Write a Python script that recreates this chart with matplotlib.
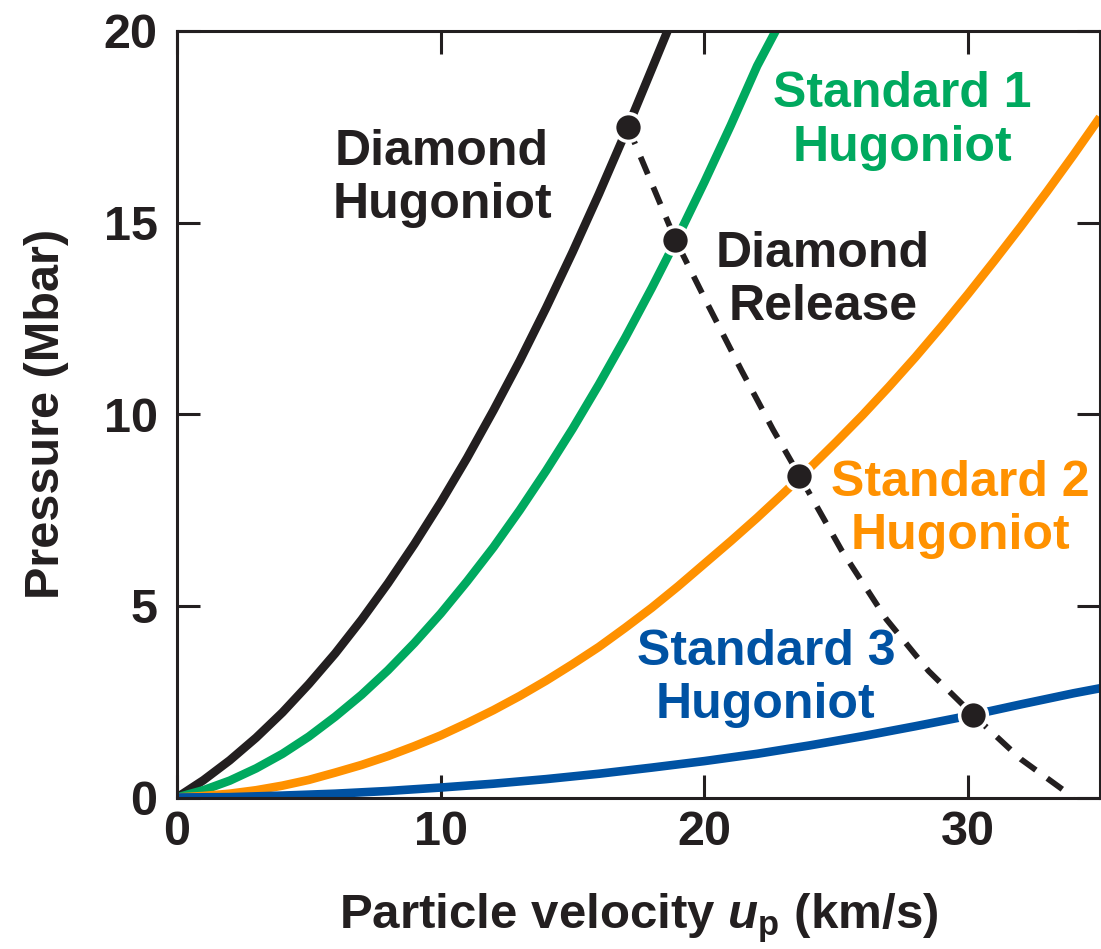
import numpy as np
import matplotlib
matplotlib.use("Agg")
import matplotlib.pyplot as plt

plt.rcParams['font.family'] = ['Liberation Sans', 'DejaVu Sans']
plt.rcParams['font.weight'] = 'bold'
plt.rcParams['mathtext.fontset'] = 'custom'
plt.rcParams['mathtext.rm'] = 'Liberation Sans:bold'
plt.rcParams['mathtext.it'] = 'Liberation Sans:bold:italic'
plt.rcParams['mathtext.bf'] = 'Liberation Sans:bold'

# Hugoniot curves: up (km/s) vs P (Mbar)
diamond_up = [0, 1, 2, 3, 4, 5, 6, 7, 8, 9, 10, 11, 12, 13, 14, 15, 16, 17, 18, 18.6]
diamond_p = [0, 0.45, 0.97, 1.56, 2.22, 2.96, 3.76, 4.64, 5.59, 6.61, 7.7,
             8.86, 10.1, 11.4, 12.78, 14.23, 15.75, 17.34, 19.0, 20.0]

std1_up = [0, 1, 2, 3, 4, 5, 6, 7, 8, 9, 10, 11, 12, 13, 14, 15, 16, 17, 18, 19, 20, 21, 22, 22.7]
std1_p = [0, 0.19, 0.44, 0.76, 1.14, 1.59, 2.11, 2.68, 3.32, 4.03, 4.8, 5.64,
          6.53, 7.5, 8.53, 9.62, 10.78, 12.0, 13.29, 14.64, 16.06, 17.54, 19.09, 20.0]

std2_up = [0, 1, 2, 3, 4, 5, 6, 7, 8, 9, 10, 11, 12, 13, 14, 15, 16, 17, 18,
           19, 20, 21, 22, 23, 24, 25, 26, 27, 28, 29, 30, 31, 32, 33, 34, 35]
std2_p = [0, 0.04, 0.1, 0.19, 0.31, 0.46, 0.65, 0.85, 1.08, 1.34, 1.62, 1.94,
          2.28, 2.65, 3.05, 3.48, 3.93, 4.43, 4.95, 5.51, 6.1, 6.69, 7.3, 7.94,
          8.6, 9.28, 9.98, 10.72, 11.49, 12.3, 13.14, 14.01, 14.9, 15.82, 16.77, 17.75]

std3_up = [0, 2, 4, 6, 8, 10, 12, 14, 16, 18, 20, 22, 24, 26, 28, 30, 32, 34, 35]
std3_p = [0, 0.01, 0.05, 0.1, 0.17, 0.26, 0.36, 0.48, 0.62, 0.78, 0.95, 1.14,
          1.36, 1.6, 1.86, 2.13, 2.43, 2.72, 2.85]

# diamond release isentrope
release_up = [17.1, 18.9, 20.1, 21.4, 22.6, 23.6, 25.2, 26.9, 28.5, 30.2, 32.0, 34.0]
release_p = [17.5, 14.55, 12.9, 11.15, 9.6, 8.4, 6.45, 4.65, 3.3, 2.15, 1.0, 0.0]

# impedance-match points
match_up = [17.1, 18.9, 23.6, 30.2]
match_p = [17.5, 14.55, 8.4, 2.15]

c_black = '#231f20'
c_green = '#00a95f'
c_orange = '#ff9100'
c_blue = '#0052a3'

fig = plt.figure(figsize=(11.01, 9.49), dpi=100)
ax = fig.add_axes([177/1101, 1 - 797.5/949, 923/1101, 766.5/949])

ax.plot(diamond_up, diamond_p, color=c_black, lw=6.2, solid_capstyle='butt')
ax.plot(std1_up, std1_p, color=c_green, lw=6.2, solid_capstyle='butt')
ax.plot(std2_up, std2_p, color=c_orange, lw=6.2, solid_capstyle='butt')
ax.plot(std3_up, std3_p, color=c_blue, lw=6.2, solid_capstyle='butt')
ax.plot(release_up, release_p, color=c_black, lw=4.2, dashes=(3.2, 2.4),
        clip_on=False)
ax.plot(match_up, match_p, 'o', color=c_black, ms=20, mec='white', mew=2.5, zorder=5)

ax.set_xlim(0, 35)
ax.set_ylim(0, 20)
ax.set_xticks([0, 10, 20, 30])
ax.set_yticks([0, 5, 10, 15, 20])
ax.tick_params(direction='in', length=16.5, width=2.2, top=True, right=True,
               labelsize=35, color=c_black, labelcolor=c_black)
ax.tick_params(axis='x', pad=9)
ax.tick_params(axis='y', pad=14)
for s in ax.spines.values():
    s.set_linewidth(2.2)
    s.set_color(c_black)

txt = dict(fontsize=36, fontweight='bold', ha='center', va='center',
           multialignment='center', linespacing=1.2)
ax.text(10.05, 16.15, 'Diamond\nHugoniot', color=c_black, **txt)
ax.text(24.5, 13.5, 'Diamond\nRelease', color=c_black, **txt)
ax.text(27.5, 17.65, 'Standard 1\nHugoniot', color=c_green, **txt)
ax.text(29.7, 7.52, 'Standard 2\nHugoniot', color=c_orange, **txt)
ax.text(22.33, 3.1, 'Standard 3\nHugoniot', color=c_blue, **txt)

fig.text(639/1101, 1 - 928/949, r'Particle velocity $\mathit{u}_{\mathrm{p}}$ (km/s)',
         fontsize=35.5, fontweight='bold', ha='center', va='baseline', color=c_black)
fig.text(47/1101, 1 - 414/949, 'Pressure (Mbar)', fontsize=35, fontweight='bold',
         rotation=90, ha='center', va='center', color=c_black)

fig.savefig('out.png', dpi=100)
